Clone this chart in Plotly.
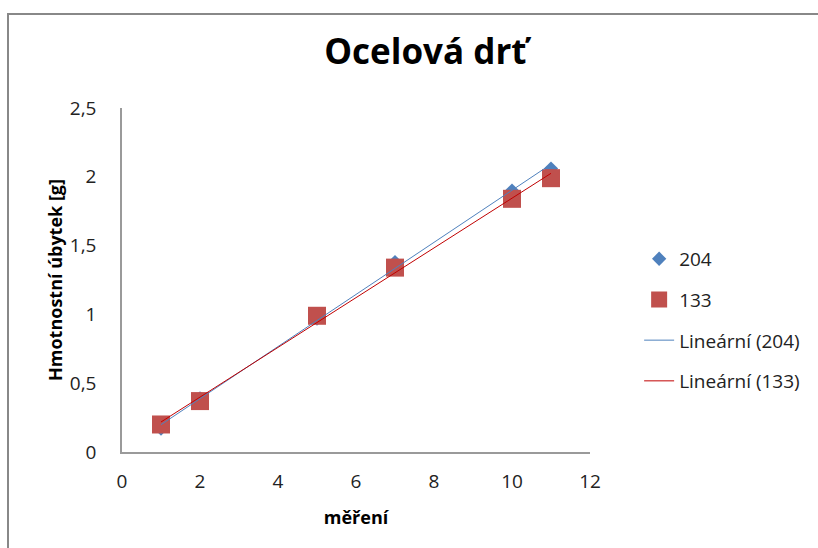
import numpy as np
import plotly.graph_objects as go

# measurement index (měření)
mereni = [1, 2, 5, 7, 10, 11]
# mass loss in grams for the two samples
uby_204 = [0.17, 0.39, 0.97, 1.38, 1.90, 2.06]
uby_133 = [0.20, 0.37, 0.99, 1.34, 1.84, 1.99]

x_ticks = [0, 2, 4, 6, 8, 10, 12]
y_ticks = [0, 0.5, 1, 1.5, 2, 2.5]

BLUE = "#4F81BD"
RED = "#C0504D"
FONT = "Open Sans, Liberation Sans, sans-serif"


def trend(xs, ys):
    k, q = np.polyfit(xs, ys, 1)
    xe = np.array([min(xs), max(xs)], dtype=float)
    return xe, k * xe + q


fig = go.Figure()

fig.add_trace(go.Scatter(
    x=mereni, y=uby_204, mode="markers", name="204", legendgroup="a",
    marker=dict(symbol="diamond", size=11, color=BLUE),
))
fig.add_trace(go.Scatter(
    x=mereni, y=uby_133, mode="markers", name="133", legendgroup="b",
    marker=dict(symbol="square", size=18, color=RED),
))

tx, ty = trend(mereni, uby_204)
fig.add_trace(go.Scatter(
    x=tx, y=ty, mode="lines", name="Lineární (204)", legendgroup="c",
    line=dict(color=BLUE, width=1),
))
tx, ty = trend(mereni, uby_133)
fig.add_trace(go.Scatter(
    x=tx, y=ty, mode="lines", name="Lineární (133)", legendgroup="d",
    line=dict(color="#C00000", width=1),
))

axis_line = "#9A9A9A"

fig.update_layout(
    width=818, height=548,
    margin=dict(l=122, r=228, t=108, b=96),
    paper_bgcolor="white", plot_bgcolor="white",
    separators=", ",
    font=dict(family=FONT, size=16, color="#222222"),
    title=dict(
        text="<b>Ocelová drť</b>", x=0.52, xanchor="center",
        y=0.905, yanchor="middle",
        font=dict(family=FONT, size=35, color="black"),
    ),
    xaxis=dict(
        range=[0, 12], tickvals=x_ticks, showgrid=False, zeroline=False,
        showline=True, linecolor=axis_line, linewidth=1.5,
        ticks="", ticklabelstandoff=11,
        tickfont=dict(size=19, color="#222222"),
        title=dict(text="<b>měření</b>", standoff=19,
                   font=dict(size=18, color="black")),
    ),
    yaxis=dict(
        range=[0, 2.5], tickvals=y_ticks, showgrid=False, zeroline=False,
        showline=True, linecolor=axis_line, linewidth=1.5,
        ticks="", ticklabelstandoff=20,
        tickfont=dict(size=19, color="#222222"),
        title=dict(text="<b>Hmotnostní úbytek [g]</b>", standoff=2,
                   font=dict(size=18, color="black")),
    ),
    legend=dict(
        x=1.105, xanchor="left", y=0.384, yanchor="middle",
        traceorder="grouped", tracegroupgap=13,
        font=dict(size=19, color="#222222"),
        bgcolor="rgba(0,0,0,0)",
    ),
    showlegend=True,
)

# outer chart frame
fig.add_shape(
    type="rect", xref="paper", yref="paper",
    x0=-114 / 468, x1=(830 - 122) / 468,
    y0=-200 / 344, y1=(452 - 14) / 344,
    line=dict(color="#888888", width=2), layer="below",
)

fig.write_html("out.html")
